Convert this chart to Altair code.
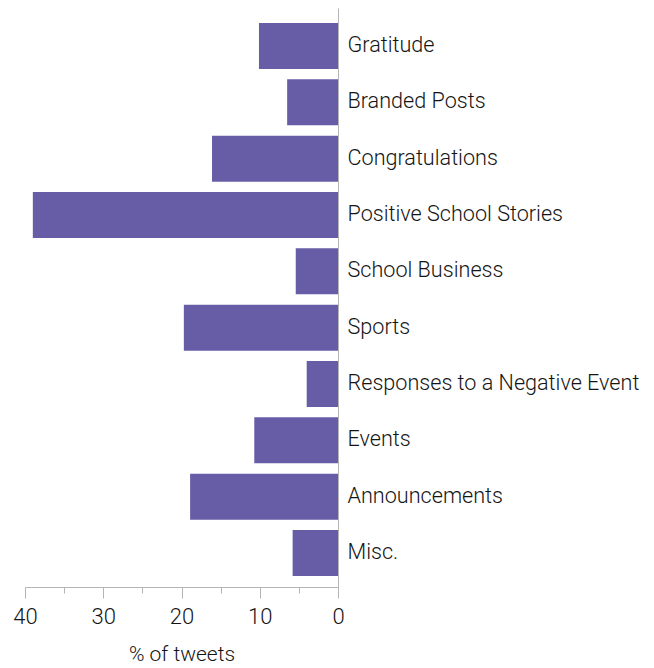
import altair as alt
import pandas as pd

categories = ["Gratitude", "Branded Posts", "Congratulations", "Positive School Stories",
              "School Business", "Sports", "Responses to a Negative Event", "Events",
              "Announcements", "Misc."]
values = [10.1, 6.5, 16.1, 39.0, 5.4, 19.7, 4.0, 10.7, 18.9, 5.8]
x_ticks = [0, 5, 10, 15, 20, 25, 30, 35, 40]

df = pd.DataFrame({"category": categories, "pct": values})

FONT = "Roboto"
GREY = "#b5b5b5"
TEXT = "#151515"

chart = alt.Chart(df).mark_bar(color="#675da7").encode(
    x=alt.X("pct:Q",
            scale=alt.Scale(domain=[0, 40], reverse=True, nice=False, zero=True),
            axis=alt.Axis(title="% of tweets", values=x_ticks,
                          labelExpr="datum.value % 10 === 0 ? datum.label : ''",
                          tickSize={"condition": {"test": "datum.value % 10 === 0", "value": 11}, "value": 6},
                          domainColor=GREY, tickColor=GREY, grid=False,
                          labelFont=FONT, labelFontSize=22, labelColor=TEXT,
                          labelFontWeight=300,
                          labelPadding=8, labelFlush=False,
                          titleFont=FONT, titleFontSize=21, titleColor=TEXT,
                          titleFontWeight=300, titlePadding=16)),
    y=alt.Y("category:N", sort=categories,
            scale=alt.Scale(paddingInner=0.1834, paddingOuter=0.231, align=0.577),
            axis=alt.Axis(orient="right", title=None, ticks=False, domainColor=GREY,
                          labelFont=FONT, labelFontSize=21.6, labelColor=TEXT,
                          labelFontWeight=300,
                          labelPadding=9, labelLimit=400)),
).properties(
    width=313, height=579,
    autosize=alt.AutoSizeParams(type="none"),
    padding={"left": 17, "top": 0, "right": 306, "bottom": 80},
).configure_view(stroke=None)

chart.save("out.html", embed_options={"renderer": "svg", "actions": False})
